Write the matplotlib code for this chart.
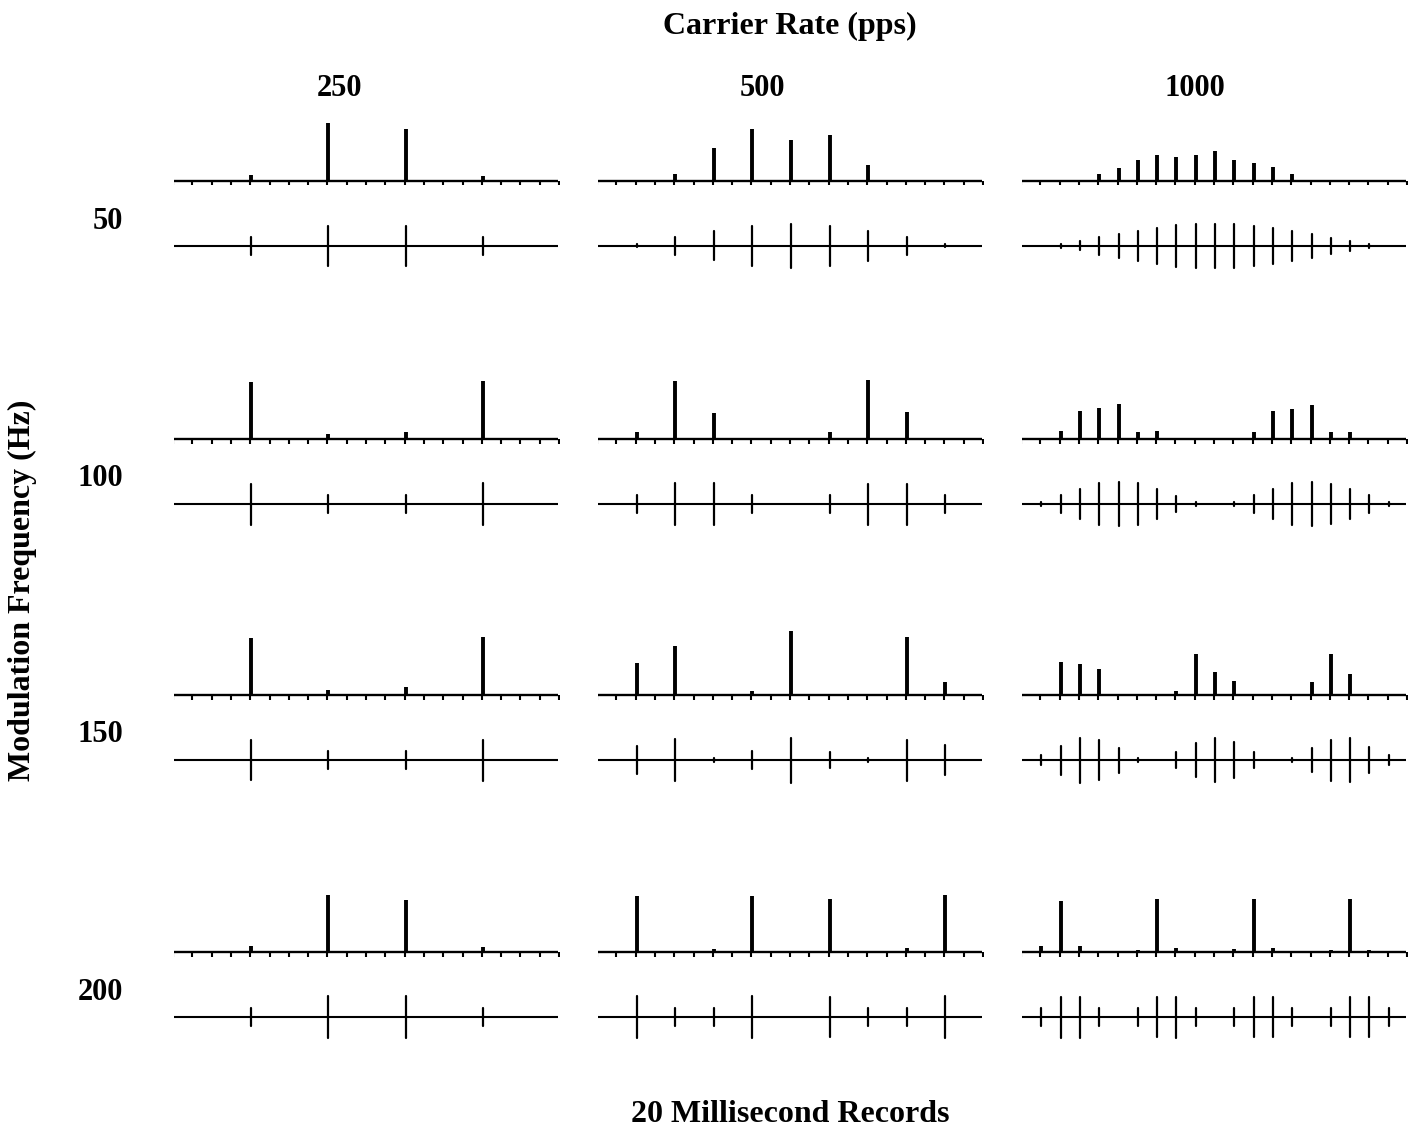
import matplotlib
matplotlib.use("Agg")
import matplotlib.pyplot as plt
import numpy as np

plt.rcParams["font.family"] = ["Liberation Serif", "DejaVu Serif"]
plt.rcParams["font.weight"] = "bold"

record_ms = 20
carrier_rates = [250, 500, 1000]
mod_freqs = [50, 100, 150, 200]

# stimulus pulse amplitudes (half height) and response heights,
# one value per carrier pulse from the first pulse up to the last one inside the record
stim_50_250 = [9, 20, 20, 9]
resp_50_250 = [6, 58, 52, 5]
stim_50_500 = [1.5, 9, 14.5, 20, 22, 20, 15, 9, 1.5]
resp_50_500 = [0, 7, 33, 52, 41, 46, 16, 0, 0]
stim_50_1000 = [0, 1.7, 4.5, 8.7, 12.3, 15, 18, 20.7, 22.3, 22, 22, 19.7, 17.7, 14.7, 11.7, 8.3, 4.7, 1.7, 0]
resp_50_1000 = [0, 0, 0, 7, 13, 21, 26, 24, 26, 30, 21, 18, 14, 7, 0, 0, 0, 0, 0]

stim_100_250 = [20.5, 9, 9, 21]
resp_100_250 = [57, 5, 7, 58]
stim_100_500 = [9, 20.7, 20.7, 9, 0, 9, 20.5, 20.5, 9]
resp_100_500 = [7, 58, 26, 0, 0, 7, 59, 27, 0]
stim_100_1000 = [1.7, 9, 15, 20.7, 22.3, 20.7, 15.3, 8.3, 1.7, 0, 1.7, 8.7, 15, 20.7, 22.3, 20, 15, 8.7, 1.7]
resp_100_1000 = [0, 8, 28, 31, 35, 7, 8, 0, 0, 0, 0, 7, 28, 30, 34, 7, 7, 0, 0]

stim_150_250 = [20.3, 9, 9, 20.5]
resp_150_250 = [57, 5, 8, 58]
stim_150_500 = [14.3, 20.8, 2, 9.2, 22.5, 8, 2, 20.5, 15]
resp_150_500 = [32, 49, 0, 4, 64, 0, 0, 58, 13]
stim_150_1000 = [5, 14.5, 22.5, 20, 12.5, 2, 0, 8.3, 17.3, 22, 18.3, 8.3, 0, 2, 12, 20.5, 22, 13, 5]
resp_150_1000 = [0, 33, 31, 26, 0, 0, 0, 4, 41, 23, 14, 0, 0, 0, 13, 41, 21, 0, 0]

stim_200_250 = [9, 21, 20.7, 9]
resp_200_250 = [6, 57, 52, 5]
stim_200_500 = [20.8, 9.2, 9.2, 20.7, 0, 20, 9, 9.2, 20.8]
resp_200_500 = [56, 0, 3, 56, 0, 53, 0, 4, 57]
stim_200_1000 = [8.8, 20.5, 20.5, 9.2, 0, 9, 20, 20.5, 9, 0, 9, 20, 20, 9, 0, 9, 20, 20, 9]
resp_200_1000 = [6, 51, 6, 0, 0, 2, 53, 4, 0, 0, 3, 53, 4, 0, 0, 2, 53, 2, 0]

stim = [[stim_50_250, stim_50_500, stim_50_1000],
        [stim_100_250, stim_100_500, stim_100_1000],
        [stim_150_250, stim_150_500, stim_150_1000],
        [stim_200_250, stim_200_500, stim_200_1000]]
resp = [[resp_50_250, resp_50_500, resp_50_1000],
        [resp_100_250, resp_100_500, resp_100_1000],
        [resp_150_250, resp_150_500, resp_150_1000],
        [resp_200_250, resp_200_500, resp_200_1000]]

W, H = 1418, 1132
fig = plt.figure(figsize=(W / 100, H / 100), dpi=100)

col_left = [174, 598, 1022]
col_width = 386
row_base = [181, 439, 695, 952]
y_top, y_bot = 68, -92
stim_offset = 65


def draw_panel(ax, rate, stim_amp, resp_h):
    period = 1000.0 / rate
    t = period * np.arange(1, len(stim_amp) + 1)
    stim_amp = np.array(stim_amp)
    resp_h = np.array(resp_h)

    # response trace: baseline with 1 ms ticks
    ax.hlines(0, -0.1, record_ms - 0.1, color="black", lw=1.7)
    ax.vlines(np.arange(record_ms + 1) - 0.05, -4.5, 0, color="black", lw=1.5)
    m = resp_h > 0
    ax.vlines(t[m], 0, resp_h[m], color="black", lw=2.8)

    # stimulus trace
    ax.hlines(-stim_offset, -0.1, record_ms - 0.1, color="black", lw=1.5)
    m = stim_amp > 0
    ax.vlines(t[m], -stim_offset - stim_amp[m], -stim_offset + stim_amp[m],
              color="black", lw=1.6, capstyle="round")

    ax.set_xlim(0, record_ms)
    ax.set_ylim(y_bot, y_top)
    ax.axis("off")


for r in range(len(mod_freqs)):
    for c in range(len(carrier_rates)):
        left = col_left[c] / W
        bottom = 1 - (row_base[r] - y_bot) / H
        ax = fig.add_axes([left, bottom, col_width / W, (y_top - y_bot) / H])
        ax.patch.set_alpha(0)
        draw_panel(ax, carrier_rates[c], stim[r][c], resp[r][c])

fs_title = 23
fs_num = 22
fig.text(790 / W, 1 - 26 / H, "Carrier Rate (pps)", ha="center", va="center", fontsize=fs_title)
header_x = [340, 762, 1195]
for c in range(len(carrier_rates)):
    fig.text(header_x[c] / W, 1 - 88 / H, str(carrier_rates[c]), ha="center", va="center", fontsize=fs_num)
for r in range(len(mod_freqs)):
    fig.text(123 / W, 1 - (row_base[r] + 40) / H, str(mod_freqs[r]), ha="right", va="center", fontsize=fs_num)
fig.text(22 / W, 1 - 590 / H, "Modulation Frequency (Hz)", ha="center", va="center",
         rotation=90, fontsize=fs_title)
fig.text(790 / W, 1 - 1115 / H, "20 Millisecond Records", ha="center", va="center", fontsize=fs_title)

plt.savefig("out.png", dpi=100, facecolor="white")
